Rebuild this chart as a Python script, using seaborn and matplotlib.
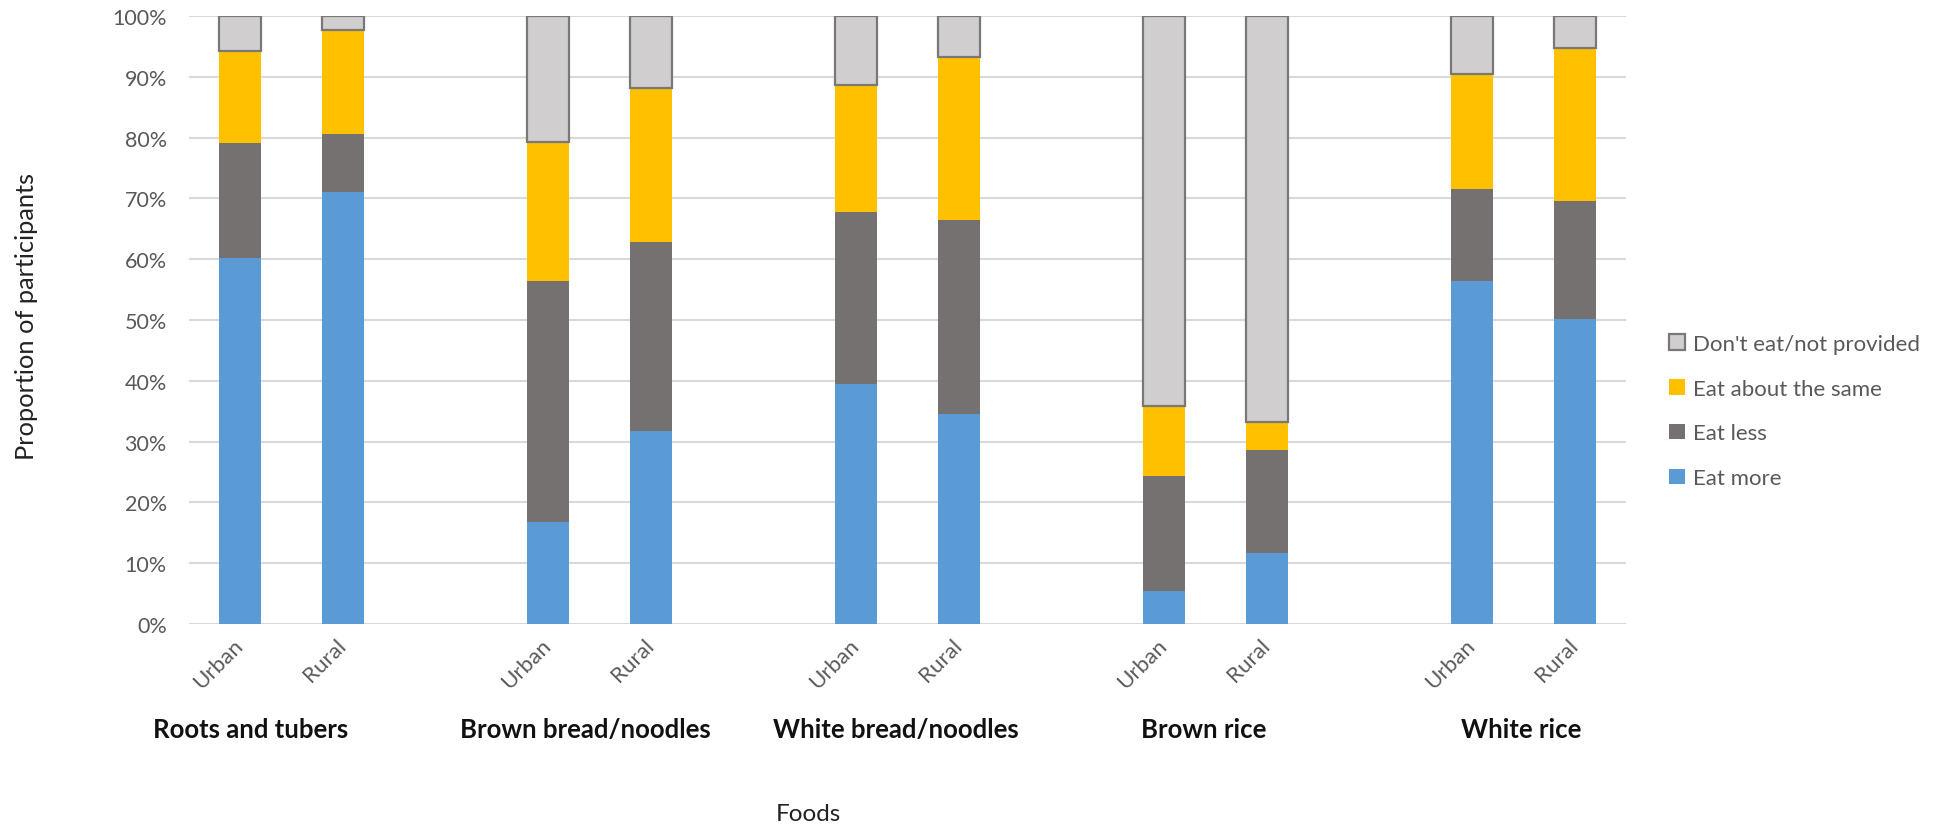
import numpy as np
import pandas as pd
import matplotlib
matplotlib.use("Agg")
import matplotlib.pyplot as plt
import matplotlib.transforms as mtransforms
from matplotlib.patches import Patch
from matplotlib.ticker import FuncFormatter
import seaborn as sns

# ---------------- data ----------------
foods = ["Roots and tubers", "Brown bread/noodles", "White bread/noodles", "Brown rice", "White rice"]
settings = ["Urban", "Rural"]
series_names = ["Eat more", "Eat less", "Eat about the same", "Don't eat/not provided"]
eat_more = [60.2, 71.0, 16.8, 31.7, 39.4, 34.6, 5.4, 11.6, 56.4, 50.2]
eat_less = [18.9, 9.6, 39.6, 31.1, 28.3, 31.9, 19.0, 17.1, 15.2, 19.4]
eat_same = [15.2, 17.1, 22.9, 25.4, 20.9, 26.8, 11.4, 4.5, 18.9, 25.1]
dont_eat = [5.7, 2.3, 20.7, 11.8, 11.4, 6.7, 64.2, 66.8, 9.5, 5.3]
y_ticks = [0, 10, 20, 30, 40, 50, 60, 70, 80, 90, 100]

# ---------------- styles ----------------
colors = ["#5B9BD5", "#767171", "#FFC000", "#D0CECE"]
edgecolors = ["none", "none", "none", "#7A7777"]
label_offsets = [-0.40, -0.14, -0.11, -0.11, -0.02]

sns.set_theme(style="white")
plt.rcParams["font.family"] = ["Lato", "DejaVu Sans"]

rows = []
for i, f in enumerate(foods):
    for j, s in enumerate(settings):
        rows.append({"food": f, "setting": s, "slot": f"{f}|{s}"})
df = pd.DataFrame(rows)
df["Eat more"] = eat_more
df["Eat less"] = eat_less
df["Eat about the same"] = eat_same
df["Don't eat/not provided"] = dont_eat

order = []
for i, f in enumerate(foods):
    order += [f"{f}|{s}" for s in settings]
    if i < len(foods) - 1:
        order.append(f"gap{i}")

fig = plt.figure(figsize=(19.34, 8.29), dpi=100)
ax = fig.add_axes([189 / 1934, 1 - 625 / 829, (1626 - 189) / 1934, (625 - 17) / 829])

bottom = np.zeros(len(df))
for name, c, ec in zip(series_names, colors, edgecolors):
    vals = df[name].to_numpy()
    sns.barplot(data=df, x="slot", y=name, order=order, color=c, width=0.41,
                bottom=bottom.copy(), edgecolor=ec,
                linewidth=1.6 if ec != "none" else 0, saturation=1, ax=ax)
    bottom = bottom + vals

ax.set_ylim(0, 100)
ax.set_xlim(-0.5, len(order) - 0.5)
ax.set_yticks(y_ticks)
ax.yaxis.set_major_formatter(FuncFormatter(lambda v, p: f"{v:.0f}%"))
ax.grid(axis="y", color="#D9D9D9", linewidth=1.5)
ax.grid(axis="x", visible=False)
ax.set_axisbelow(True)
for sp in ax.spines.values():
    sp.set_visible(False)
ax.set_xlabel("")
ax.set_ylabel("")

tick_pos = [order.index(s) for s in df["slot"]]
ax.set_xticks(tick_pos)
ax.set_xticklabels(df["setting"].tolist())
ax.tick_params(axis="x", length=0, pad=13, labelsize=16, labelcolor="#595959")
ax.tick_params(axis="y", length=0, pad=16, labelsize=15.5, labelcolor="#595959")
for lab in ax.get_xticklabels():
    lab.set_rotation(45)
    lab.set_ha("right")
    lab.set_va("center")
    lab.set_rotation_mode("anchor")

trans = mtransforms.blended_transform_factory(ax.transData, fig.transFigure)
for i, f in enumerate(foods):
    xs = [order.index(f"{f}|{s}") for s in settings]
    ax.text(np.mean(xs) + label_offsets[i], 1 - 730 / 829, f, transform=trans,
            ha="center", va="center", fontsize=18.5, fontweight="bold", color="#111111")

fig.text(808 / 1934, 1 - 815 / 829, "Foods", ha="center", va="center",
         fontsize=17.5, color="#222222")
fig.text(27 / 1934, 1 - 316 / 829, "Proportion of participants", rotation=90,
         ha="center", va="center", fontsize=18.3, color="#222222")

handles = [Patch(facecolor=c, edgecolor=(ec if ec != "none" else c), linewidth=1.6 if ec != "none" else 0)
           for c, ec in zip(colors, edgecolors)]
leg = fig.legend(handles[::-1], series_names[::-1], loc="center left",
                 bbox_to_anchor=(1669 / 1934, 1 - 412 / 829), frameon=False,
                 fontsize=16, handlelength=0.7, handleheight=0.7,
                 handletextpad=0.4, labelspacing=1.12, borderpad=0, borderaxespad=0)
for t in leg.get_texts():
    t.set_color("#595959")

fig.savefig("out.png", dpi=100)
